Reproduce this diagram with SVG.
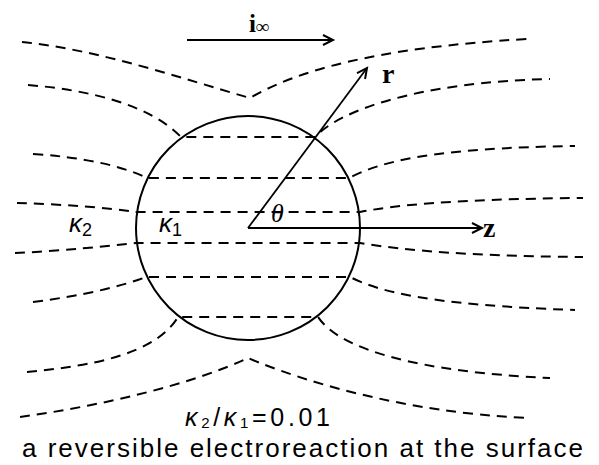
<svg xmlns="http://www.w3.org/2000/svg" width="599" height="465" viewBox="0 0 599 465">
<style>
.fl{fill:none;stroke:#000;stroke-width:2;stroke-dasharray:10 7}
.ax{fill:none;stroke:#000;stroke-width:1.8}
.sv{font-family:"Liberation Serif","DejaVu Serif",serif;font-weight:bold;fill:#000}
.ss{font-family:"Liberation Sans","DejaVu Sans",sans-serif;fill:#000}
</style>
<defs>
<marker id="ah" markerUnits="userSpaceOnUse" markerWidth="14" markerHeight="14" refX="11" refY="6" orient="auto" viewBox="0 0 14 12">
<path d="M1,1 L11,6 L1,11" fill="none" stroke="#000" stroke-width="2"/>
</marker>
</defs>
<rect width="599" height="465" fill="#fff"/>
<g id="field-lines">
<path class="fl" d="M22,42 C100,50 180,78 250,98 C295,72 370,48 527,39"/>
<path class="fl" d="M28,85 C90,90 150,105 181,137 H315 C340,110 420,82 550,79"/>
<path class="fl" d="M33,154 C80,157 120,165 147,178 H349 C380,162 430,148 575,146"/>
<path class="fl" d="M17,203 C60,204 110,208 136,212 H360 C390,206 450,199 583,198"/>
<path class="fl" d="M15,253 C60,251 110,246 136,243 H360 C390,248 450,256 583,257"/>
<path class="fl" d="M33,302 C80,296 120,287 146,277 H350 C380,292 430,305 575,310"/>
<path class="fl" d="M27,372 C90,366 155,355 178,317 H318 C340,350 420,372 550,378"/>
<path class="fl" d="M20,417 C100,406 190,385 248,358 C300,380 400,412 527,418"/>
</g>
<g id="sphere">
<circle cx="248" cy="228" r="112" fill="none" stroke="#000" stroke-width="2"/>
</g>
<g id="connectors">
<line class="ax" x1="187" y1="40" x2="333" y2="40" marker-end="url(#ah)"/>
<line class="ax" x1="248" y1="228" x2="367" y2="68" marker-end="url(#ah)"/>
<line class="ax" x1="248" y1="228" x2="482" y2="228" marker-end="url(#ah)"/>
</g>
<g id="labels">
<text class="sv" x="249" y="32" font-size="25">i<tspan font-size="19" dy="1">∞</tspan></text>
<text class="sv" x="382" y="83" font-size="28">r</text>
<text class="sv" x="483" y="237" font-size="28">z</text>
<text x="271" y="222" font-family="Liberation Serif, DejaVu Serif, serif" font-style="italic" font-size="26">θ</text>
<text class="ss" x="69" y="232" font-size="26"><tspan font-style="italic">κ</tspan><tspan font-size="18" dy="4">2</tspan></text>
<text class="ss" x="159" y="232" font-size="26"><tspan font-style="italic">κ</tspan><tspan font-size="18" dy="4">1</tspan></text>
<text class="ss" x="185" y="426" font-size="25" textLength="145" lengthAdjust="spacing"><tspan font-style="italic">κ</tspan><tspan font-size="15" dy="2">2</tspan><tspan dy="-2">/</tspan><tspan font-style="italic">κ</tspan><tspan font-size="15" dy="2">1</tspan><tspan dy="-2">=0.01</tspan></text>
<text class="ss" x="22" y="457" font-size="26" textLength="561" lengthAdjust="spacing">a reversible electroreaction at the surface</text>
</g>
</svg>
